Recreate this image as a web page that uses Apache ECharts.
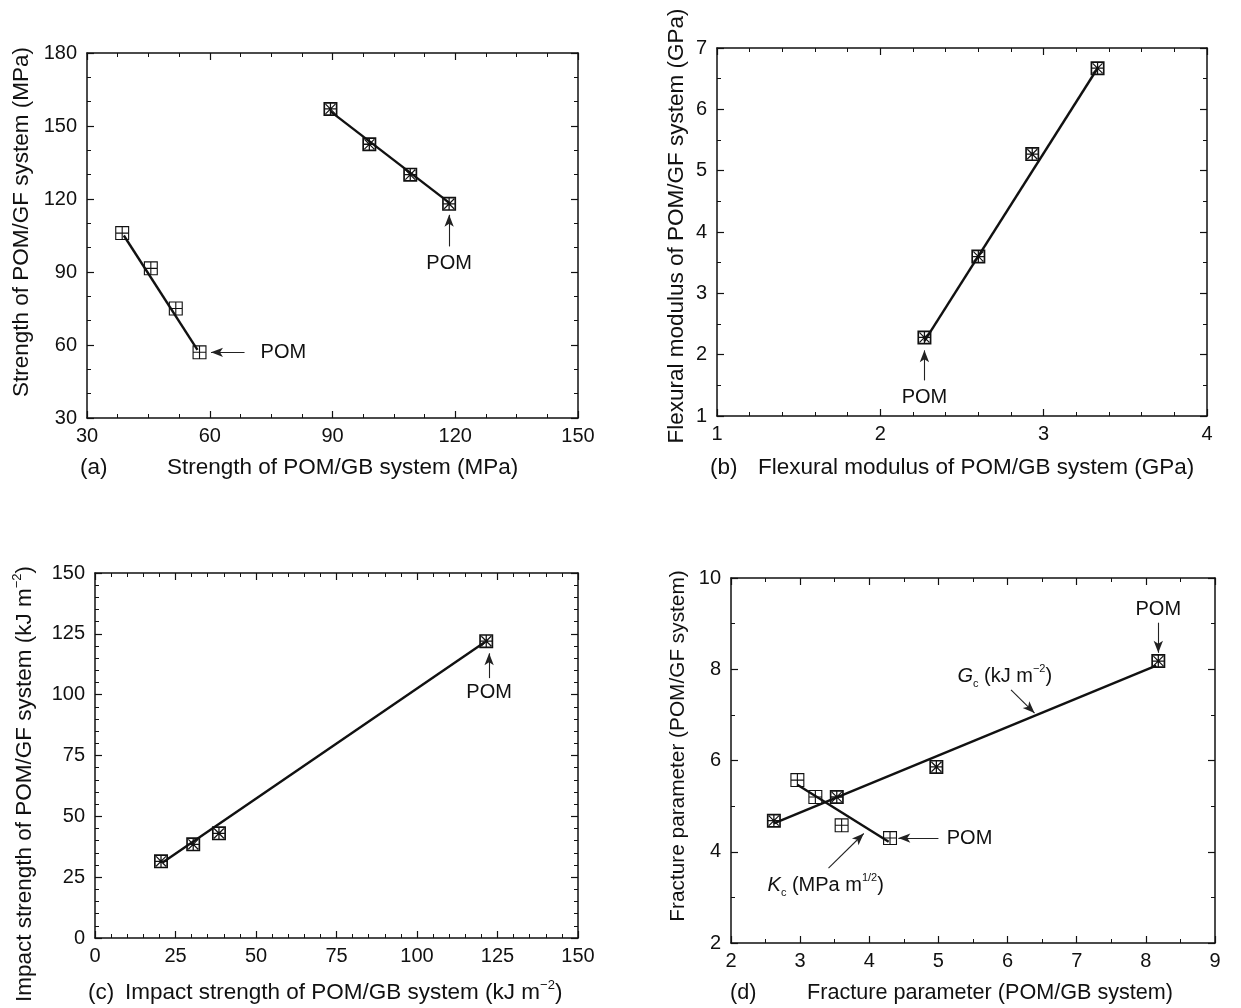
<!DOCTYPE html>
<html><head><meta charset="utf-8">
<script src="https://cdn.jsdelivr.net/npm/echarts@6/dist/echarts.min.js"></script>
<style>html,body{margin:0;padding:0;background:#fff}#c{width:1241px;height:1008px}</style>
</head><body><div id="c"></div>
<script>
// ---- Panel (a): strength (MPa)
const aGB_x = [38.6, 45.6, 51.7, 57.5];
const aGB_y = [106, 91.5, 75, 57];
const aGF_x = [89.5, 99, 109, 118.5];
const aGF_y = [157, 142.5, 130, 118];
const aGB_fit = [[39, 105], [57, 58]];
const aGF_fit = [[89.5, 156], [118.5, 118.5]];
// ---- Panel (b): flexural modulus (GPa)
const b_x = [2.27, 2.6, 2.93, 3.33];
const b_y = [2.28, 3.6, 5.27, 6.67];
const b_fit = [[2.27, 2.22], [3.33, 6.67]];
// ---- Panel (c): impact strength (kJ m^-2)
const c_x = [20.5, 30.5, 38.5, 121.5];
const c_y = [31.5, 38.5, 43, 122];
const c_fit = [[21, 31], [121, 121.5]];
// ---- Panel (d): fracture parameters
const dGc_x = [2.62, 3.53, 4.97, 8.18];
const dGc_y = [4.68, 5.2, 5.86, 8.18];
const dKc_x = [2.96, 3.22, 3.6, 4.3];
const dKc_y = [5.57, 5.2, 4.58, 4.3];
const dGc_fit = [[2.62, 4.62], [8.15, 8.08]];
const dKc_fit = [[2.96, 5.47], [4.28, 4.22]];

// axis ranges / tick intervals
const axA = {xmin: 30, xmax: 150, xint: 30, xminor: 4, ymin: 30, ymax: 180, yint: 30, yminor: 3};
const axB = {xmin: 1, xmax: 4, xint: 1, xminor: 5, ymin: 1, ymax: 7, yint: 1, yminor: 2};
const axC = {xmin: 0, xmax: 150, xint: 25, xminor: 5, ymin: 0, ymax: 150, yint: 25, yminor: 5};
const axD = {xmin: 2, xmax: 9, xint: 1, xminor: 2, ymin: 2, ymax: 10, yint: 2, yminor: 2};

// annotations [text, x, y]
const annA = [['POM', 78, 57], ['POM', 118.5, 93.5]];
const arrA = [[[68.5, 57], [60.3, 57]], [[118.5, 100.5], [118.5, 113.5]]];
const annB = [['POM', 2.27, 1.31]];
const arrB = [[[2.27, 1.58], [2.27, 2.07]]];
const annC = [['POM', 122.4, 100.7]];
const arrC = [[[122.4, 106.8], [122.4, 117]]];
const annD = [['POM', 8.18, 9.3], ['POM', 5.45, 4.3], ['{i|G}{sub|c}{n| (kJ m}{sup|−2}{n|)}', 5.96, 7.84], ['{i|K}{sub|c}{n| (MPa m}{sup|1/2}{n|)}', 3.37, 3.27]];
const arrD = [[[8.18, 9.02], [8.18, 8.36]], [[5.0, 4.3], [4.42, 4.3]], [[6.05, 7.55], [6.39, 7.04]], [[3.41, 3.64], [3.92, 4.40]]];

const FONT = 'Liberation Sans, Arial, Helvetica, sans-serif';
const INK = '#111';
const PLUS_SQ = 'path://M0,0H20V20H0Z M1.6,1.6V18.4H18.4V1.6Z M9.2,1.6H10.8V18.4H9.2Z M1.6,9.2H18.4V10.8H1.6Z';
const STAR_SQ = 'path://M0,0H20V20H0Z M2.4,2.4V17.6H17.6V2.4Z M9.1,2.4H10.9V17.6H9.1Z M2.4,9.1H17.6V10.9H2.4Z M2.4,3.6L3.6,2.4L17.6,16.4L16.4,17.6Z M16.4,2.4L17.6,3.6L3.6,17.6L2.4,16.4Z';

const grids = [
  {left: 87, top: 53, width: 491, height: 365},
  {left: 717, top: 48, width: 490, height: 368},
  {left: 95, top: 573, width: 483, height: 365},
  {left: 731, top: 578, width: 484, height: 365}
];
const axes = [axA, axB, axC, axD];

const xAxis = [], yAxis = [];
axes.forEach((a, i) => {
  const common = {
    type: 'value', gridIndex: i,
    axisLine: {show: true, onZero: false, lineStyle: {color: INK, width: 1.5}},
    axisTick: {show: true, inside: true, length: 7, lineStyle: {color: INK, width: 1.2}},
    minorTick: {show: true, length: 4, lineStyle: {color: INK, width: 1}},
    splitLine: {show: false}, minorSplitLine: {show: false}
  };
  xAxis.push(Object.assign({}, common, {position: 'bottom', min: a.xmin, max: a.xmax, interval: a.xint,
    minorTick: Object.assign({}, common.minorTick, {splitNumber: a.xminor}),
    axisLabel: {fontSize: 20, color: INK, margin: 8, fontFamily: FONT, showMinLabel: true, showMaxLabel: true}}));
  xAxis.push(Object.assign({}, common, {position: 'top', min: a.xmin, max: a.xmax, interval: a.xint,
    minorTick: Object.assign({}, common.minorTick, {splitNumber: a.xminor}),
    axisLabel: {show: false}}));
  yAxis.push(Object.assign({}, common, {position: 'left', min: a.ymin, max: a.ymax, interval: a.yint,
    minorTick: Object.assign({}, common.minorTick, {splitNumber: a.yminor}),
    axisLabel: {fontSize: 20, color: INK, margin: 10, fontFamily: FONT, showMinLabel: true, showMaxLabel: true}}));
  yAxis.push(Object.assign({}, common, {position: 'right', min: a.ymin, max: a.ymax, interval: a.yint,
    minorTick: Object.assign({}, common.minorTick, {splitNumber: a.yminor}),
    axisLabel: {show: false}}));
});

const zip = (xs, ys) => xs.map((x, k) => [x, ys[k]]);
const series = [];
function fitLine(i, pts) {
  series.push({type: 'line', xAxisIndex: 2 * i, yAxisIndex: 2 * i, data: pts, symbol: 'none',
    lineStyle: {color: INK, width: 2.4}, z: 2, silent: true});
}
function points(i, xs, ys, sym) {
  series.push({type: 'scatter', xAxisIndex: 2 * i, yAxisIndex: 2 * i, data: zip(xs, ys), symbol: sym,
    symbolSize: 14, itemStyle: {color: INK, opacity: 1}, z: 3, silent: true});
}
function arrows(i, arrs) {
  series.push({type: 'line', xAxisIndex: 2 * i, yAxisIndex: 2 * i, data: [], silent: true,
    markLine: {silent: true, animation: false, symbol: ['none', 'arrow'], symbolSize: [7, 12],
      lineStyle: {color: '#222', width: 1.1, type: 'solid', opacity: 1}, label: {show: false},
      data: arrs.map(r => [{coord: r[0]}, {coord: r[1]}])}
  });
}
// (a)
fitLine(0, aGB_fit); fitLine(0, aGF_fit);
points(0, aGB_x, aGB_y, PLUS_SQ); points(0, aGF_x, aGF_y, STAR_SQ);
arrows(0, arrA);
// (b)
fitLine(1, b_fit); points(1, b_x, b_y, STAR_SQ); arrows(1, arrB);
// (c)
fitLine(2, c_fit); points(2, c_x, c_y, STAR_SQ); arrows(2, arrC);
// (d)
fitLine(3, dGc_fit); fitLine(3, dKc_fit);
points(3, dGc_x, dGc_y, STAR_SQ); points(3, dKc_x, dKc_y, PLUS_SQ);
arrows(3, arrD);

function txt(t, x, y, rot, align, fs) {
  fs = fs || 22.5;
  return {type: 'text', x: x, y: y, rotation: rot || 0, silent: true,
    style: {text: t, fill: INK, font: fs + 'px ' + FONT, align: align || 'left', verticalAlign: 'middle', rich: {
      n: {fontSize: fs, fontFamily: FONT, fill: INK, lineHeight: 28},
      sup: {fontSize: 13, fontFamily: FONT, fill: INK, verticalAlign: 'top', lineHeight: 28}}}};
}
const graphic = [
  txt('(a)', 80, 468), txt('Strength of POM/GB system (MPa)', 167, 468),
  txt('(b)', 710, 468), txt('Flexural modulus of POM/GB system (GPa)', 758, 468),
  txt('(c)', 88, 993), txt('{n|Impact strength of POM/GB system (kJ m}{sup|−2}{n|)}', 125, 993),
  txt('(d)', 730, 993, 0, 'left', 21.6), txt('Fracture parameter (POM/GB system)', 807, 993, 0, 'left', 21.6),
  txt('Strength of POM/GF system (MPa)', 22, 222, Math.PI / 2, 'center'),
  txt('Flexural modulus of POM/GF system (GPa)', 677, 226, Math.PI / 2, 'center'),
  txt('{n|Impact strength of POM/GF system (kJ m}{sup|−2}{n|)}', 25, 784, Math.PI / 2, 'center'),
  txt('Fracture parameter (POM/GF system)', 678, 746, Math.PI / 2, 'center', 20.8)
];

const chart = echarts.init(document.getElementById('c'), null, {renderer: 'canvas'});
chart.setOption({
  animation: false, backgroundColor: '#fff',
  grid: grids.map(g => Object.assign({containLabel: false, outerBoundsMode: 'none'}, g)),
  xAxis: xAxis, yAxis: yAxis, series: series, graphic: graphic
});

// annotation texts placed at data coordinates via the chart's own scales
const annRich = {
  n: {fontSize: 20, fontFamily: FONT, fill: INK, lineHeight: 26},
  i: {fontSize: 20, fontFamily: FONT, fontStyle: 'italic', fill: INK, lineHeight: 26},
  sub: {fontSize: 11, fontFamily: FONT, fill: INK, verticalAlign: 'bottom', lineHeight: 26},
  sup: {fontSize: 11, fontFamily: FONT, fill: INK, verticalAlign: 'top', lineHeight: 26}
};
const annGraphic = [];
[annA, annB, annC, annD].forEach((list, i) => {
  list.forEach(a => {
    const p = chart.convertToPixel({xAxisIndex: 2 * i, yAxisIndex: 2 * i}, [a[1], a[2]]);
    annGraphic.push({type: 'text', x: p[0], y: p[1], silent: true, z: 10,
      style: {text: a[0].startsWith('{') ? a[0] : '{n|' + a[0] + '}', fill: INK, font: '20px ' + FONT,
        align: 'center', verticalAlign: 'middle', rich: annRich}});
  });
});
chart.setOption({graphic: graphic.concat(annGraphic)});
</script></body></html>
